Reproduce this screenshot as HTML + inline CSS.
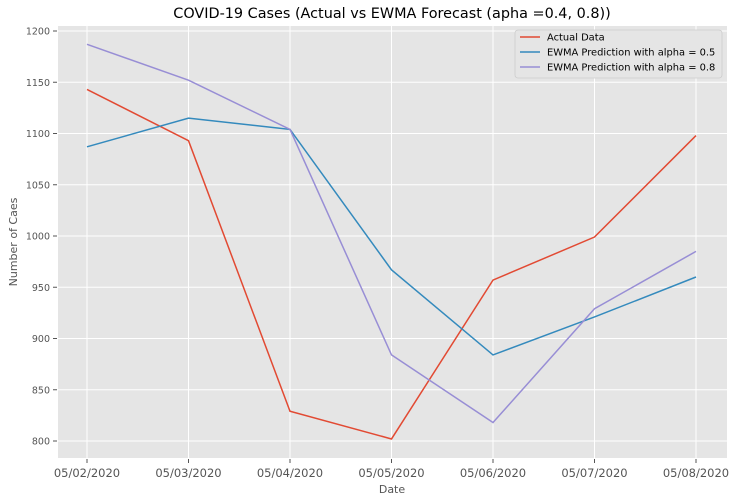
<!DOCTYPE html>
<html><head><meta charset="utf-8"><style>
body{margin:0;background:#fff;font-family:"DejaVu Sans","Liberation Sans",sans-serif}
</style></head><body>
<svg id="chart" width="737" height="503" style="display:block;font-family:'DejaVu Sans','Liberation Sans',sans-serif">
<text x="392" y="18" font-size="14.4" text-anchor="middle" fill="#000">COVID-19 Cases (Actual vs EWMA Forecast (apha =0.4, 0.8))</text>
<rect x="58" y="26" width="669" height="432" fill="#e5e5e5"/>
<g id="grid"></g><g id="series"></g><g id="ticks"></g>
<text x="392" y="493" font-size="11" text-anchor="middle" fill="#555">Date</text>
<text transform="translate(17,242) rotate(-90)" font-size="11" text-anchor="middle" fill="#555">Number of Caes</text>
<g>
<rect x="515" y="30" width="207" height="48" rx="3" fill="#e5e5e5" stroke="#ccc" stroke-width="0.8"/>
<g id="legend"></g>
</g>
</svg>
<script>
const categories=["05/02/2020","05/03/2020","05/04/2020","05/05/2020","05/06/2020","05/07/2020","05/08/2020"];
const actual=[1143,1093,829,802,957,999,1098];
const ewma05=[1087,1115,1104,967,884,921,960];
const ewma08=[1187,1152,1104,884,818,929,985];
const yTicks=[800,850,900,950,1000,1050,1100,1150,1200];
const seriesNames=["Actual Data","EWMA Prediction with alpha = 0.5","EWMA Prediction with alpha = 0.8"];
const seriesColors=["#e24a33","#348abd","#988ed5"];
const ns="http://www.w3.org/2000/svg";
const x=i=>87+i*(696-87)/(categories.length-1);
const y=v=>441-(v-800)*(441-31)/400;
function mk(tag,attrs,parent){const e=document.createElementNS(ns,tag);for(const k in attrs)e.setAttribute(k,attrs[k]);parent.appendChild(e);return e;}
const grid=document.getElementById('grid'),ticks=document.getElementById('ticks'),ser=document.getElementById('series'),leg=document.getElementById('legend');
yTicks.forEach(t=>{
 const l=mk('line',{x1:58,x2:727,y1:y(t),y2:y(t),stroke:'#fff','stroke-width':1},grid);
 
 
 mk('line',{x1:53,x2:57,y1:y(t),y2:y(t),stroke:'#555'},ticks);
 const tx=mk('text',{x:50,y:y(t)+3.5,'font-size':9.5,'text-anchor':'end',fill:'#555'},ticks);
 tx.textContent=t;
 
 
});
categories.forEach((c,i)=>{
 const l=mk('line',{x1:x(i),x2:x(i),y1:26,y2:458,stroke:'#fff','stroke-width':1},grid);
 
 
 mk('line',{x1:x(i),x2:x(i),y1:459,y2:463,stroke:'#555'},ticks);
 const tx=mk('text',{x:x(i),y:477,'font-size':11.5,'text-anchor':'middle',fill:'#555'},ticks);
 tx.textContent=c;
 
 
});
[actual,ewma05,ewma08].forEach((d,s)=>{
 const p=mk('polyline',{points:d.map((v,i)=>x(i)+','+y(v)).join(' '),fill:'none',stroke:seriesColors[s],'stroke-width':1.5},ser);
 
 
 const ly=37+s*15;
 mk('line',{x1:520,x2:540,y1:ly,y2:ly,stroke:seriesColors[s],'stroke-width':1.5},leg);
 const t=mk('text',{x:547,y:ly+3.5,'font-size':9.9,fill:'#000'},leg);
 t.textContent=seriesNames[s];
 
 
});
</script>
</body></html>
